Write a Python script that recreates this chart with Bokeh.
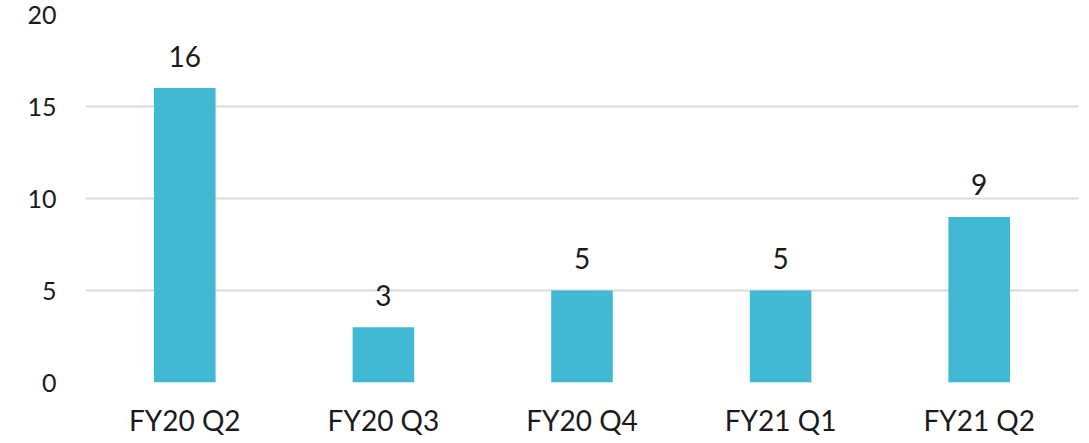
from bokeh.plotting import figure
from bokeh.models import ColumnDataSource, FixedTicker, Range1d
from bokeh.core.properties import value
from bokeh.embed import file_html
from bokeh.resources import INLINE

categories = ["FY20 Q2", "FY20 Q3", "FY20 Q4", "FY21 Q1", "FY21 Q2"]
values = [16, 3, 5, 5, 9]
y_ticks = [0, 5, 10, 15, 20]

FONT = "Lato"
src = ColumnDataSource(dict(cat=categories, val=values, lab=[str(v) for v in values]))

p = figure(x_range=categories, y_range=Range1d(0, 20),
           frame_width=993, frame_height=368,
           output_backend="svg", toolbar_location=None,
           min_border_left=85, min_border_right=3, min_border_top=14, min_border_bottom=40)
p.outline_line_color = None
p.vbar(x="cat", top="val", width=0.31, source=src, color="#41B9D3", line_color=None)
p.text(x="cat", y="val", text="lab", source=src, text_align="center",
       text_baseline="alphabetic", y_offset=-32, text_font=value(FONT),
       text_font_size="28px", text_color="#1a1a1a")

p.xgrid.grid_line_color = None
p.ygrid.grid_line_color = "#d9d9d9"
p.ygrid.grid_line_width = 2
p.yaxis.ticker = FixedTicker(ticks=y_ticks)

for ax in (p.xaxis[0], p.yaxis[0]):
    ax.axis_line_color = None
    ax.major_tick_line_color = None
    ax.minor_tick_line_color = None
    ax.major_label_text_font = FONT
    ax.major_label_text_color = "#1a1a1a"
p.xaxis.major_label_text_font_size = "28px"
p.yaxis.major_label_text_font_size = "25px"
p.yaxis.major_label_standoff = 23
p.xaxis.major_label_standoff = 14

open("out.html", "w").write(file_html(p, INLINE))
